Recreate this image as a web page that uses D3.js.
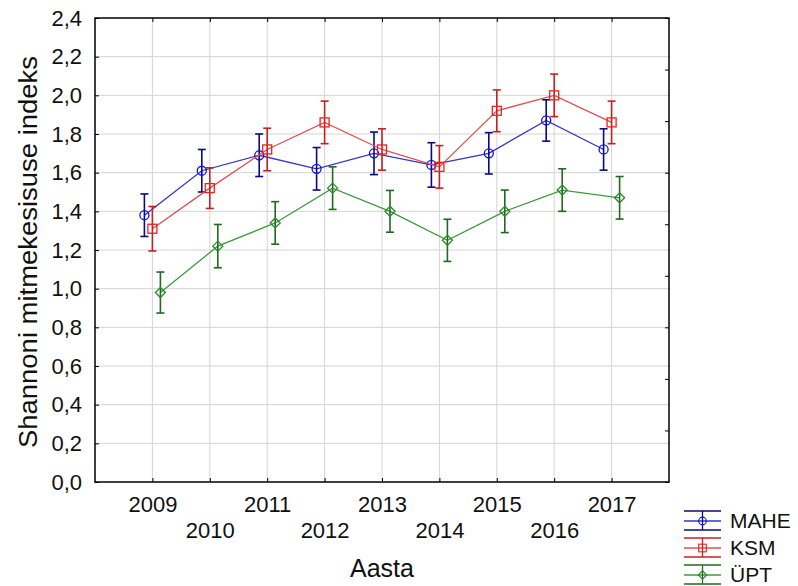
<!DOCTYPE html>
<html lang="et">
<head>
  <meta charset="UTF-8">
  <title>Shannoni mitmekesisuse indeks</title>
  <script src="https://d3js.org/d3.v7.min.js"></script>
  <style>
    body { margin: 0; background: #fff; }
    svg { display: block; }
    svg text { font-family: "Liberation Sans", Arial, sans-serif; fill: #111; }
    .grid line { stroke: #d4d4d4; stroke-width: 1; }
    .axis path { display: none; }
    .axis line { stroke: #000; }
    .axis text { font-size: 22px; }
  </style>
</head>
<body>
<svg width="798" height="586"></svg>

<script>
  // Andmed: keskmine ja usalduspiiri poollaius
  const years = [2009, 2010, 2011, 2012, 2013, 2014, 2015, 2016, 2017];
  const yTicks = [0, 0.2, 0.4, 0.6, 0.8, 1.0, 1.2, 1.4, 1.6, 1.8, 2.0, 2.2, 2.4];
  const seriesNames = ["MAHE", "KSM", "ÜPT"];

  const mahe    = [1.38, 1.61, 1.69, 1.62, 1.70, 1.64, 1.70, 1.87, 1.72];
  const maheErr = [0.11, 0.11, 0.11, 0.11, 0.11, 0.115, 0.107, 0.107, 0.107];
  const ksm     = [1.31, 1.52, 1.72, 1.86, 1.72, 1.63, 1.92, 2.00, 1.86];
  const ksmErr  = [0.115, 0.105, 0.11, 0.11, 0.107, 0.11, 0.108, 0.11, 0.11];
  const upt     = [0.98, 1.22, 1.34, 1.52, 1.40, 1.25, 1.40, 1.51, 1.47];
  const uptErr  = [0.106, 0.112, 0.11, 0.11, 0.108, 0.109, 0.11, 0.11, 0.11];

  const svg = d3.select("svg"),
        margin = {top: 18, right: 129, bottom: 104, left: 95},
        width = +svg.attr("width") - margin.left - margin.right,
        height = +svg.attr("height") - margin.top - margin.bottom;

  const g = svg.append("g").attr("transform", `translate(${margin.left},${margin.top})`);

  const x = d3.scalePoint()
      .domain(years)
      .range([0, width])
      .padding(1);

  const y = d3.scaleLinear()
      .domain([0, 2.4])
      .range([height, 0]);

  const series = [
    {name: seriesNames[0], values: mahe, err: maheErr, line: "#3535c8", mark: "#1010e0", bar: "#0a0a80", shape: "circle", dx: -8},
    {name: seriesNames[1], values: ksm,  err: ksmErr,  line: "#e05050", mark: "#ee2020", bar: "#c82020", shape: "square", dx: 0},
    {name: seriesNames[2], values: upt,  err: uptErr,  line: "#3d9a3d", mark: "#2a8a2a", bar: "#1f6a1f", shape: "diamond", dx: 8}
  ];

  // Ruudustik
  g.append("g").attr("class", "grid")
    .selectAll("line").data(yTicks.slice(1, -1)).join("line")
      .attr("x1", 0).attr("x2", width)
      .attr("y1", d => y(d)).attr("y2", d => y(d));
  g.append("g").attr("class", "grid")
    .selectAll("line").data(years).join("line")
      .attr("x1", d => x(d)).attr("x2", d => x(d))
      .attr("y1", 0).attr("y2", height);

  // Teljed
  g.append("g").attr("class", "axis")
      .call(d3.axisLeft(y).tickValues(yTicks).tickSize(-4).tickPadding(13)
        .tickFormat(d => d3.format(".1f")(d).replace(".", ",")));

  const xAxis = g.append("g").attr("class", "axis")
      .attr("transform", `translate(0,${height})`)
      .call(d3.axisBottom(x).tickSize(-4));
  xAxis.selectAll("text")
      .attr("dy", null)
      .attr("y", (d, i) => i % 2 === 0 ? 30 : 56);

  g.append("g").attr("class", "axis")
      .call(d3.axisTop(x).tickSize(-4).tickFormat(""));

  const yRight = d3.scaleLinear().domain([0, 9]).range([height, 0]);
  g.append("g").attr("class", "axis")
      .attr("transform", `translate(${width},0)`)
      .call(d3.axisRight(yRight).ticks(9).tickSize(-4).tickFormat(""));

  // Raam
  g.append("rect")
      .attr("width", width).attr("height", height)
      .attr("fill", "none").attr("stroke", "#000").attr("stroke-width", 1.5);

  function marker(sel, s) {
    if (s.shape === "circle") {
      sel.append("circle").attr("r", 4.5);
    } else if (s.shape === "square") {
      sel.append("rect").attr("x", -4.5).attr("y", -4.5).attr("width", 9).attr("height", 9);
    } else {
      sel.append("path").attr("d", "M0,-5L5,0L0,5L-5,0Z");
    }
    sel.selectAll("*").attr("fill", "none").attr("stroke", s.mark).attr("stroke-width", 1.3);
  }

  series.forEach(s => {
    const pts = years.map((yr, i) => ({yr, v: s.values[i], e: s.err[i]}));
    const px = d => x(d.yr) + s.dx;

    g.append("path")
        .datum(pts)
        .attr("fill", "none")
        .attr("stroke", s.line)
        .attr("stroke-width", 1.3)
        .attr("d", d3.line().x(px).y(d => y(d.v)));

    const eb = g.append("g")
        .attr("stroke", s.bar).attr("stroke-width", 1.6)
      .selectAll("g").data(pts).join("g");
    eb.append("line")
        .attr("x1", px).attr("x2", px)
        .attr("y1", d => y(d.v + d.e)).attr("y2", d => y(d.v - d.e));
    eb.append("line")
        .attr("x1", d => px(d) - 4).attr("x2", d => px(d) + 4)
        .attr("y1", d => y(d.v + d.e)).attr("y2", d => y(d.v + d.e));
    eb.append("line")
        .attr("x1", d => px(d) - 4).attr("x2", d => px(d) + 4)
        .attr("y1", d => y(d.v - d.e)).attr("y2", d => y(d.v - d.e));

    g.append("g").selectAll("g").data(pts).join("g")
        .attr("transform", d => `translate(${px(d)},${y(d.v)})`)
        .each(function() { marker(d3.select(this), s); });
  });

  // Telgede pealkirjad
  svg.append("text")
      .attr("transform", `translate(37,${margin.top + height / 2 + 2}) rotate(-90)`)
      .attr("text-anchor", "middle")
      .attr("font-size", 26)
      .attr("textLength", 392)
      .attr("lengthAdjust", "spacingAndGlyphs")
      .text("Shannoni mitmekesisuse indeks");

  svg.append("text")
      .attr("x", margin.left + x(2013))
      .attr("y", 577)
      .attr("text-anchor", "middle")
      .attr("font-size", 25)
      .text("Aasta");

  // Legend
  const legend = svg.append("g").attr("transform", "translate(684,521)");
  series.forEach((s, i) => {
    const row = legend.append("g").attr("transform", `translate(0,${i * 27})`);
    row.append("line").attr("x1", 0).attr("x2", 37).attr("y1", 0).attr("y2", 0)
        .attr("stroke", s.line).attr("stroke-width", 1.3);
    [-10, 9].forEach(dy => row.append("line")
        .attr("x1", 0).attr("x2", 37).attr("y1", dy).attr("y2", dy)
        .attr("stroke", s.bar).attr("stroke-width", 1.3));
    row.append("line").attr("x1", 18.5).attr("x2", 18.5).attr("y1", -10).attr("y2", 9)
        .attr("stroke", s.bar).attr("stroke-width", 1.3);
    const m = row.append("g").attr("transform", "translate(18.5,0)");
    marker(m, s);
    m.selectAll("*").attr("transform", "scale(0.85)");
    row.append("text")
        .attr("x", 46).attr("y", 7)
        .attr("font-size", 21)
        .text(s.name);
  });
</script>
</body>
</html>
